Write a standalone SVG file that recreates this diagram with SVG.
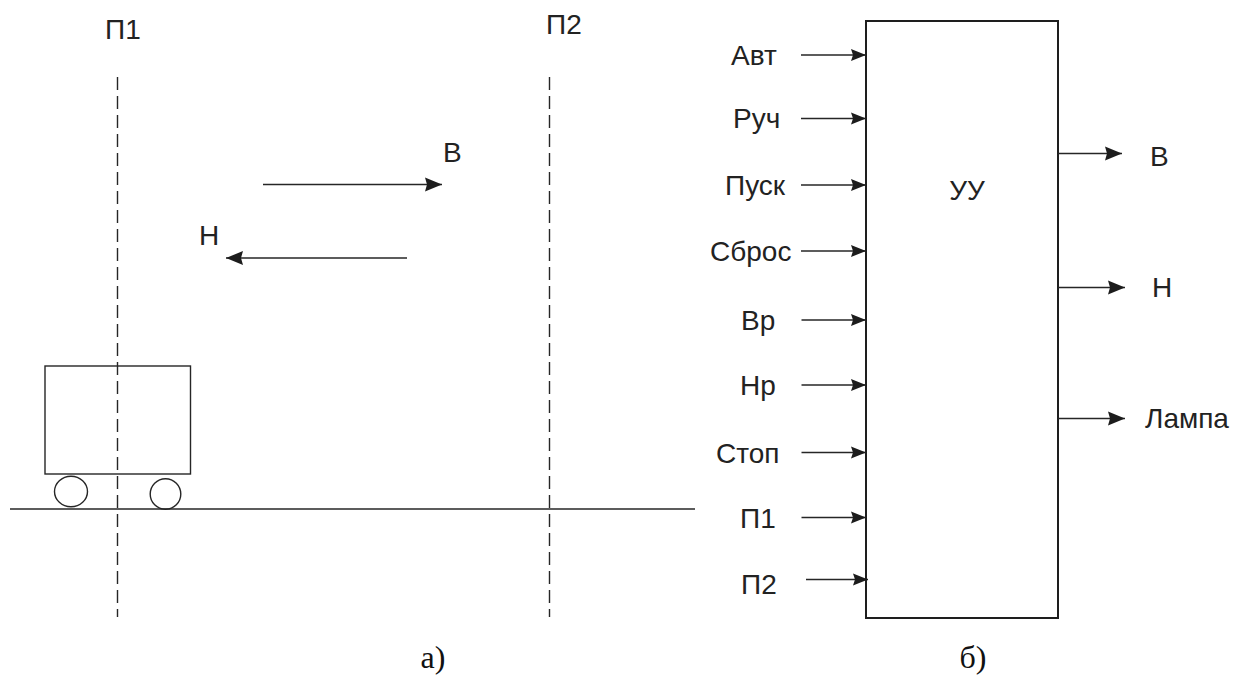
<svg xmlns="http://www.w3.org/2000/svg" width="1243" height="693" viewBox="0 0 1243 693">
  <defs>
    <style>
      .ln { stroke: #262626; stroke-width: 1.4; fill: none; }
      .dash { stroke: #262626; stroke-width: 1.4; fill: none; stroke-dasharray: 13 6; }
      .box { stroke: #1e1e1e; stroke-width: 2; fill: #fff; }
      .lbl { font-family: "Liberation Sans", Arial, sans-serif; font-size: 28px; fill: #222; }
      .cap { font-family: "Liberation Serif", "Times New Roman", serif; font-size: 32px; fill: #111; }
      .head { fill: #1c1c1c; }
    </style>
    <marker id="arr" viewBox="0 0 17 15" refX="17" refY="7.5" markerWidth="17" markerHeight="15" markerUnits="userSpaceOnUse" orient="auto">
      <path class="head" d="M0,0.5 L17,7.5 L0,14.5 L2,7.5 Z"/>
    </marker>
    <marker id="arrS" viewBox="0 0 15 13" refX="15" refY="6.5" markerWidth="15" markerHeight="13" markerUnits="userSpaceOnUse" orient="auto">
      <path class="head" d="M0,0.5 L15,6.5 L0,12.5 L2,6.5 Z"/>
    </marker>
  </defs>
  <rect width="1243" height="693" fill="#fff"/>

  <!-- Panel a: track, sensors and trolley -->
  <g id="track">
    <line class="ln" x1="10" y1="509" x2="695" y2="509" style="stroke-width:1.6"/>
  </g>
  <g id="sensor-p1">
    <line class="dash" x1="117.5" y1="77" x2="117.5" y2="617"/>
    <text class="lbl" x="105" y="39">П1</text>
  </g>
  <g id="sensor-p2">
    <line class="dash" x1="549.5" y1="77" x2="549.5" y2="617"/>
    <text class="lbl" x="546" y="34">П2</text>
  </g>
  <g id="trolley">
    <rect class="ln" x="45" y="366" width="145.5" height="108"/>
    <ellipse class="ln" cx="71" cy="491.5" rx="16.5" ry="15.3"/>
    <ellipse class="ln" cx="165.5" cy="494" rx="15.3" ry="15.3"/>
  </g>
  <g id="dir-forward">
    <line class="ln" x1="263" y1="184.5" x2="442" y2="184.5" marker-end="url(#arr)"/>
    <text class="lbl" x="443" y="162">В</text>
  </g>
  <g id="dir-back">
    <line class="ln" x1="407" y1="258" x2="226" y2="258" marker-end="url(#arr)"/>
    <text class="lbl" x="199" y="245">Н</text>
  </g>
  <text class="cap" x="433" y="668" text-anchor="middle">а)</text>

  <!-- Panel b: control unit -->
  <g id="control-unit">
    <rect class="box" x="866" y="21" width="192" height="597"/>
    <text class="lbl" x="967" y="200" text-anchor="middle">УУ</text>
  </g>

  <g id="connectors">
    <line class="ln" x1="801" y1="55" x2="866" y2="55" marker-end="url(#arrS)"/>
    <line class="ln" x1="801" y1="118.5" x2="866" y2="118.5" marker-end="url(#arrS)"/>
    <line class="ln" x1="801" y1="185" x2="866" y2="185" marker-end="url(#arrS)"/>
    <line class="ln" x1="801" y1="251" x2="866" y2="251" marker-end="url(#arrS)"/>
    <line class="ln" x1="801.5" y1="320" x2="866" y2="320" marker-end="url(#arrS)"/>
    <line class="ln" x1="801.5" y1="385" x2="866" y2="385" marker-end="url(#arrS)"/>
    <line class="ln" x1="801.5" y1="452.5" x2="866" y2="452.5" marker-end="url(#arrS)"/>
    <line class="ln" x1="801.5" y1="517.5" x2="866" y2="517.5" marker-end="url(#arrS)"/>
    <line class="ln" x1="806" y1="579.5" x2="868" y2="579.5" marker-end="url(#arrS)"/>
    <line class="ln" x1="1058" y1="153.5" x2="1122" y2="153.5" marker-end="url(#arr)"/>
    <line class="ln" x1="1058" y1="287.5" x2="1125" y2="287.5" marker-end="url(#arr)"/>
    <line class="ln" x1="1058" y1="418.5" x2="1125" y2="418.5" marker-end="url(#arr)"/>
  </g>

  <g id="inputs">
    <text class="lbl" x="731" y="65">Авт</text>
    <text class="lbl" x="733" y="128">Руч</text>
    <text class="lbl" x="725" y="195">Пуск</text>
    <text class="lbl" x="710" y="261">Сброс</text>
    <text class="lbl" x="741" y="330">Вр</text>
    <text class="lbl" x="740" y="395">Нр</text>
    <text class="lbl" x="716" y="463">Стоп</text>
    <text class="lbl" x="740" y="528">П1</text>
    <text class="lbl" x="741" y="594">П2</text>
  </g>
  <g id="outputs">
    <text class="lbl" x="1150" y="166">В</text>
    <text class="lbl" x="1152" y="297">Н</text>
    <text class="lbl" x="1145" y="428">Лампа</text>
  </g>
  <text class="cap" x="973" y="668" text-anchor="middle">б)</text>
</svg>
